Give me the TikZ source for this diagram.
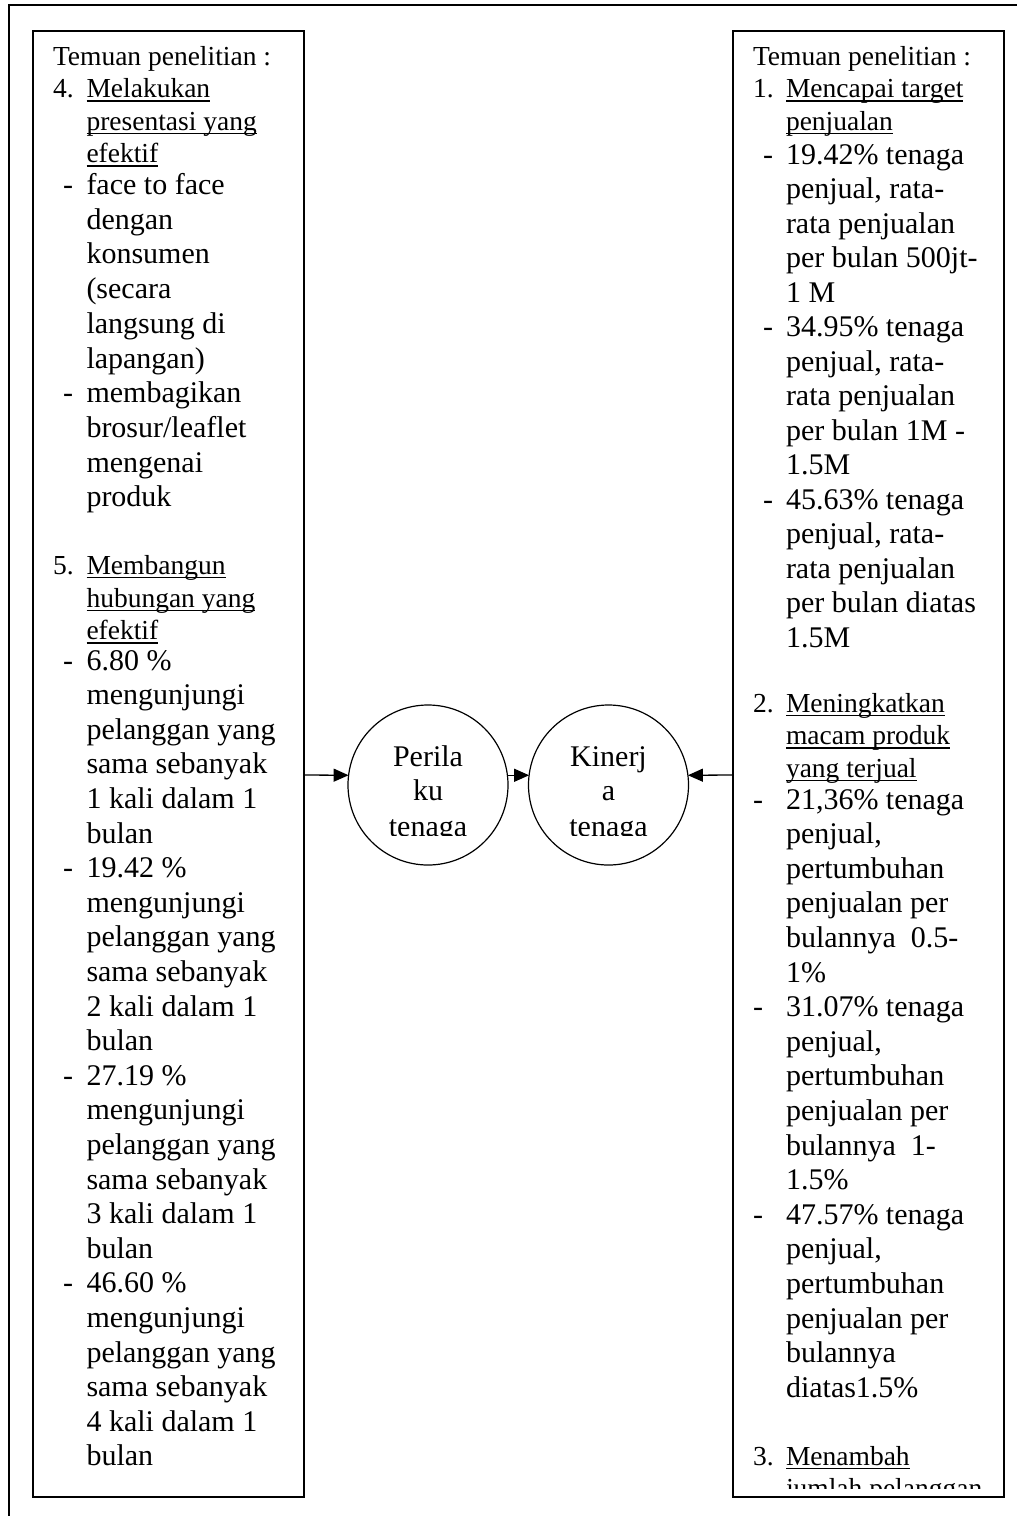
\documentclass[tikz,border=0pt]{standalone}
\usepackage{fontspec}
\setmainfont{Liberation Serif}
\usetikzlibrary{arrows.meta}

% underline at a fixed depth below the baseline (crosses descenders)
\newlength\ulwd
\newcommand\ulin[1]{\settowidth{\ulwd}{#1}\rlap{\rule[-4.4pt]{\ulwd}{1.8pt}}#1}
% one line of body text / heading text, placed by its baseline
\newcommand\linetxt[4]{\node[txt] (#1) at (#2,#3) {#4};}
\newcommand\headtxt[4]{\node[htxt] (#1) at (#2,#3) {#4};}

\begin{document}
\begin{tikzpicture}[x=1pt,y=-1pt,
  txt/.style={anchor=base west, inner sep=0pt, outer sep=0pt,
              font=\fontsize{30}{34.5}\selectfont},
  htxt/.style={txt, font=\fontsize{27.5}{32}\selectfont},
  ctxt/.style={anchor=base, inner sep=0pt, outer sep=0pt,
               font=\fontsize{30}{35}\selectfont},
  panel/.style={draw, line width=2pt, inner sep=0pt, outer sep=0pt,
                anchor=north west, minimum width=271pt, minimum height=1466pt},
  bubble/.style={draw, circle, line width=1.2pt, minimum size=160pt,
                 inner sep=0pt, outer sep=0pt},
  arr/.style={line width=1.3pt, -{Triangle[length=15pt,width=13pt]}}]

\useasboundingbox (0,0) rectangle (1017,1516);
\clip (0,0) rectangle (1017,1516);

% page frame (only top and left edges fall on the page)
\draw[line width=2pt] (1040,5) -- (9.3,5) -- (9.3,1540);

% panels
\node[panel] (lbox) at (33,30.5) {};
\node[panel] (rbox) at (733,30.5) {};

% circles
\node[bubble] (c1) at (428,785) {};
\node[bubble] (c2) at (608.5,785) {};

\begin{scope}
  \clip (340,700) rectangle (700,835);
  \node[ctxt] (c1a) at (428,766) {Perila};
  \node[ctxt] (c1b) at (428,800.7) {ku};
  \node[ctxt] (c1c) at (428,836) {tenaga};
  \node[ctxt] (c2a) at (608.5,766) {Kinerj};
  \node[ctxt] (c2b) at (608.5,800.7) {a};
  \node[ctxt] (c2c) at (608.5,836) {tenaga};
\end{scope}

% connectors
\coordinate (ay) at (0,775);
\draw[arr] (lbox.east |- ay) -- (c1.173);
\draw[arr] (c1.7) -- (c2.173);
\draw[arr] (rbox.west |- ay) -- (c2.7);

% left panel text
\begin{scope}
  \clip (34,31) rectangle (303,1488);
  \headtxt{l1}{53}{65}{Temuan penelitian :}
  \headtxt{l2n}{53}{97.5}{4.}
  \headtxt{l2}{86.5}{97.5}{\ulin{Melakukan}}
  \headtxt{l3}{86.5}{130}{\ulin{presentasi yang}}
  \headtxt{l4}{86.5}{162.5}{\ulin{efektif}}
  \linetxt{l5d}{63}{194.5}{-}
  \linetxt{l5}{86.5}{194.5}{face to face}
  \linetxt{l6}{86.5}{229.2}{dengan}
  \linetxt{l7}{86.5}{263.9}{konsumen}
  \linetxt{l8}{86.5}{298.6}{(secara}
  \linetxt{l9}{86.5}{333.3}{langsung di}
  \linetxt{l10}{86.5}{368}{lapangan)}
  \linetxt{l11d}{63}{402.7}{-}
  \linetxt{l11}{86.5}{402.7}{membagikan}
  \linetxt{l12}{86.5}{437.4}{brosur/leaflet}
  \linetxt{l13}{86.5}{472.1}{mengenai}
  \linetxt{l14}{86.5}{506.8}{produk}
  \headtxt{l16n}{53}{574}{5.}
  \headtxt{l16}{86.5}{574}{\ulin{Membangun}}
  \headtxt{l17}{86.5}{607}{\ulin{hubungan yang}}
  \headtxt{l18}{86.5}{639.5}{\ulin{efektif}}
  \linetxt{l19d}{63}{670}{-}
  \linetxt{l19}{86.5}{670}{6.80 \%}
  \linetxt{l20}{86.5}{704.6}{mengunjungi}
  \linetxt{l21}{86.5}{739.2}{pelanggan yang}
  \linetxt{l22}{86.5}{773.8}{sama sebanyak}
  \linetxt{l23}{86.5}{808.4}{1 kali dalam 1}
  \linetxt{l24}{86.5}{843}{bulan}
  \linetxt{l25d}{63}{877.6}{-}
  \linetxt{l25}{86.5}{877.6}{19.42 \%}
  \linetxt{l26}{86.5}{912.2}{mengunjungi}
  \linetxt{l27}{86.5}{946.8}{pelanggan yang}
  \linetxt{l28}{86.5}{981.4}{sama sebanyak}
  \linetxt{l29}{86.5}{1016}{2 kali dalam 1}
  \linetxt{l30}{86.5}{1050.6}{bulan}
  \linetxt{l31d}{63}{1085.2}{-}
  \linetxt{l31}{86.5}{1085.2}{27.19 \%}
  \linetxt{l32}{86.5}{1119.8}{mengunjungi}
  \linetxt{l33}{86.5}{1154.4}{pelanggan yang}
  \linetxt{l34}{86.5}{1189}{sama sebanyak}
  \linetxt{l35}{86.5}{1223.6}{3 kali dalam 1}
  \linetxt{l36}{86.5}{1258.2}{bulan}
  \linetxt{l37d}{63}{1292.8}{-}
  \linetxt{l37}{86.5}{1292.8}{46.60 \%}
  \linetxt{l38}{86.5}{1327.4}{mengunjungi}
  \linetxt{l39}{86.5}{1362}{pelanggan yang}
  \linetxt{l40}{86.5}{1396.6}{sama sebanyak}
  \linetxt{l41}{86.5}{1431.2}{4 kali dalam 1}
  \linetxt{l42}{86.5}{1465.8}{bulan}
\end{scope}

% right panel text
\begin{scope}
  \clip (734,31) rectangle (1003,1488);
  \headtxt{r1}{753}{65}{Temuan penelitian :}
  \headtxt{r2n}{753}{97.5}{1.}
  \headtxt{r2}{786}{97.5}{\ulin{Mencapai target}}
  \headtxt{r3}{786}{130}{\ulin{penjualan}}
  \linetxt{r4d}{763}{164}{-}
  \linetxt{r4}{786}{164}{19.42\% tenaga}
  \linetxt{r5}{786}{198.5}{penjual, rata-}
  \linetxt{r6}{786}{233}{rata penjualan}
  \linetxt{r7}{786}{267.5}{per bulan 500jt-}
  \linetxt{r8}{786}{302}{1 M}
  \linetxt{r9d}{763}{336.5}{-}
  \linetxt{r9}{786}{336.5}{34.95\% tenaga}
  \linetxt{r10}{786}{371}{penjual, rata-}
  \linetxt{r11}{786}{405.5}{rata penjualan}
  \linetxt{r12}{786}{440}{per bulan 1M -}
  \linetxt{r13}{786}{474.5}{1.5M}
  \linetxt{r14d}{763}{509}{-}
  \linetxt{r14}{786}{509}{45.63\% tenaga}
  \linetxt{r15}{786}{543.5}{penjual, rata-}
  \linetxt{r16}{786}{578}{rata penjualan}
  \linetxt{r17}{786}{612.5}{per bulan diatas}
  \linetxt{r18}{786}{647}{1.5M}
  \headtxt{r20n}{753}{712}{2.}
  \headtxt{r20}{786}{712}{\ulin{Meningkatkan}}
  \headtxt{r21}{786}{744.5}{\ulin{macam produk}}
  \headtxt{r22}{786}{777}{\ulin{yang terjual}}
  \linetxt{r23d}{753}{809}{-}
  \linetxt{r23}{786}{809}{21,36\% tenaga}
  \linetxt{r24}{786}{843.6}{penjual,}
  \linetxt{r25}{786}{878.2}{pertumbuhan}
  \linetxt{r26}{786}{912.8}{penjualan per}
  \linetxt{r27}{786}{947.4}{bulannya~~0.5-}
  \linetxt{r28}{786}{982}{1\%}
  \linetxt{r29d}{753}{1016.6}{-}
  \linetxt{r29}{786}{1016.6}{31.07\% tenaga}
  \linetxt{r30}{786}{1051.2}{penjual,}
  \linetxt{r31}{786}{1085.8}{pertumbuhan}
  \linetxt{r32}{786}{1120.4}{penjualan per}
  \linetxt{r33}{786}{1155}{bulannya~~1-}
  \linetxt{r34}{786}{1189.6}{1.5\%}
  \linetxt{r35d}{753}{1224.2}{-}
  \linetxt{r35}{786}{1224.2}{47.57\% tenaga}
  \linetxt{r36}{786}{1258.8}{penjual,}
  \linetxt{r37}{786}{1293.4}{pertumbuhan}
  \linetxt{r38}{786}{1328}{penjualan per}
  \linetxt{r39}{786}{1362.6}{bulannya}
  \linetxt{r40}{786}{1397.2}{diatas1.5\%}
  \headtxt{r42n}{753}{1465}{3.}
  \headtxt{r42}{786}{1465}{\ulin{Menambah}}
  \headtxt{r43}{786}{1497}{\ulin{jumlah pelanggan}}
\end{scope}

\end{tikzpicture}
\end{document}
